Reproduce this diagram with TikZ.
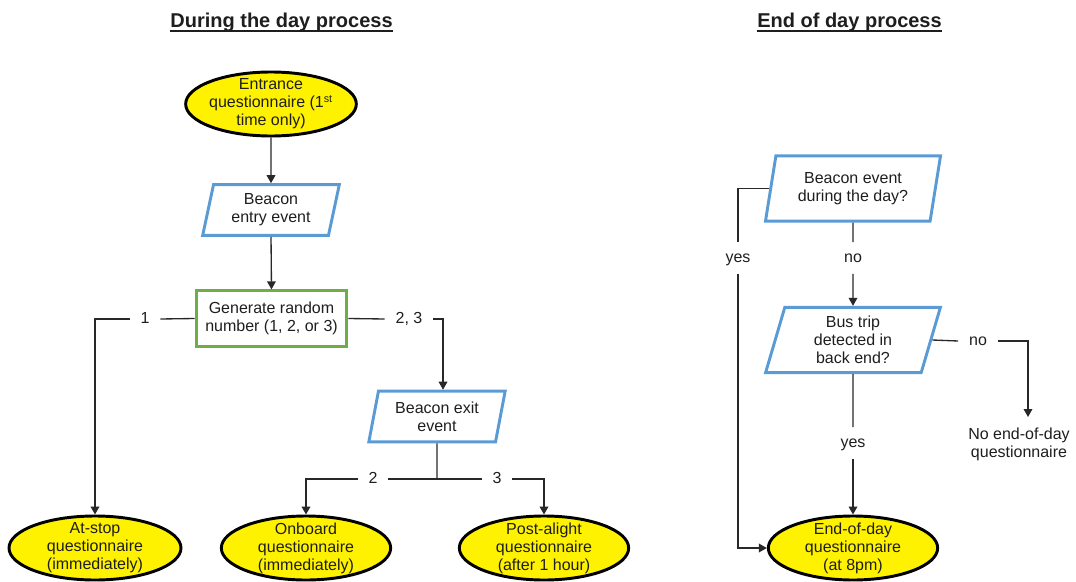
\documentclass[tikz,border=0pt]{standalone}
\usepackage{fontspec}
\setmainfont{Liberation Sans}
\usetikzlibrary{shapes.geometric,arrows.meta,calc}
\definecolor{ofblue}{RGB}{91,155,213}
\definecolor{ofgreen}{RGB}{112,173,71}
\definecolor{txt}{RGB}{30,30,30}
\definecolor{ln}{RGB}{40,40,40}
\tikzset{
  base/.style={font=\fontsize{12}{13.5}\selectfont, text=txt, align=center},
  qell/.style={base, ellipse, draw=black, line width=2.2pt, fill=yellow,
    inner xsep=-20pt, inner ysep=-4pt, minimum height=48pt, minimum width=127pt},
  para/.style={base, trapezium, trapezium left angle=77, trapezium right angle=103,
    trapezium stretches=true, draw=ofblue, line width=2.2pt, inner sep=0pt},
  procbox/.style={base, rectangle, draw=ofgreen, line width=2.2pt, inner sep=0pt,
    minimum width=113pt, minimum height=41.5pt},
  lbl/.style={base, inner xsep=8pt, inner ysep=7pt, text height=1.5ex, text depth=0.25ex},
  conn/.style={draw=ln, line width=1pt},
  arr/.style={conn, -{Triangle[width=6.5pt,length=6pt]}},
  ttl/.style={font=\bfseries\fontsize{15}{18}\selectfont, text=txt, inner sep=0pt},
  uline/.style={draw=txt, line width=1.3pt}
}
\begin{document}
\begin{tikzpicture}[x=0.75pt,y=-0.75pt]
\useasboundingbox (0,0) rectangle (1076,582);
\clip (0,0) rectangle (1076,582);

% titles
\node[ttl, anchor=base] (t1) at (281.5,27) {During the day process};
\node[ttl, anchor=base] (t2) at (849.5,27) {End of day process};
\draw[uline] ($(t1.base west)+(0,4)$) -- ($(t1.base east)+(0,4)$);
\draw[uline] ($(t2.base west)+(0,4)$) -- ($(t2.base east)+(0,4)$);

% left process
\node[qell, minimum width=128pt] (ent) at (271,104) {Entrance\\questionnaire (1\textsuperscript{st}\\time only)};
\node[para, minimum width=103pt, minimum height=38pt] (entry) at (271,210) {Beacon\\entry event};
\node[procbox] (gen) at (271.5,318.5) {Generate random\\number (1, 2, or 3)};
\node[lbl] (lab1) at (145,319) {1};
\node[lbl] (lab23) at (409,319) {2, 3};
\node[para, minimum width=103pt, minimum height=38pt] (exit) at (437,416.5) {Beacon exit\\event};
\coordinate (exitin) at ($(exit.north)+(6,0)$);
\coordinate (j) at (437,479);
\node[lbl] (lab2) at (373,479) {2};
\node[lbl] (lab3) at (497,479) {3};
\node[qell, minimum width=129pt] (atstop) at (95,548) {At-stop\\questionnaire\\(immediately)};
\node[qell] (onboard) at (306,548) {Onboard\\questionnaire\\(immediately)};
\node[qell] (post) at (544,548) {Post-alight\\questionnaire\\(after 1 hour)};

\draw[arr] (ent.south) -- (entry.north);
\draw[arr] (entry.south) -- (gen.north);
\draw[conn] (gen.west) -- (lab1.east);
\draw[arr] (lab1.west) -| (atstop.north);
\draw[conn] (gen.east) -- (lab23.west);
\draw[arr] (lab23.east) -| (exitin);
\draw[conn] (exit.south) -- (j);
\draw[conn] (j) -- (lab2.east);
\draw[arr] (lab2.west) -| (onboard.north);
\draw[conn] (j) -- (lab3.west);
\draw[arr] (lab3.east) -| (post.north);

% right process
\node[para, minimum width=132pt, minimum height=49pt] (bev) at (853,188.5) {Beacon event\\during the day?};
\node[lbl] (yes1) at (738,258) {yes};
\node[lbl] (no1) at (853,258) {no};
\node[para, minimum width=132pt, minimum height=49pt] (bus) at (853,340) {Bus trip\\detected in\\back end?};
\node[lbl] (no2) at (978,341) {no};
\node[base] (noq) at (1019,444) {No end-of-day\\questionnaire};
\coordinate (noqin) at (1028,417);
\node[lbl] (yes2) at (853,443) {yes};
\node[qell] (eod) at (853,548) {End-of-day\\questionnaire\\(at 8pm)};

\draw[conn] (bev.south) -- (no1.north);
\draw[arr] (no1.south) -- (bus.north);
\draw[conn] (bev.west) -| (yes1.north);
\draw[arr] (yes1.south) |- (eod.west);
\draw[conn] (bus.south) -- (yes2.north);
\draw[arr] (yes2.south) -- (eod.north);
\draw[conn] (bus.east) -- (no2.west);
\draw[arr] (no2.east) -| (noqin);
\end{tikzpicture}
\end{document}
